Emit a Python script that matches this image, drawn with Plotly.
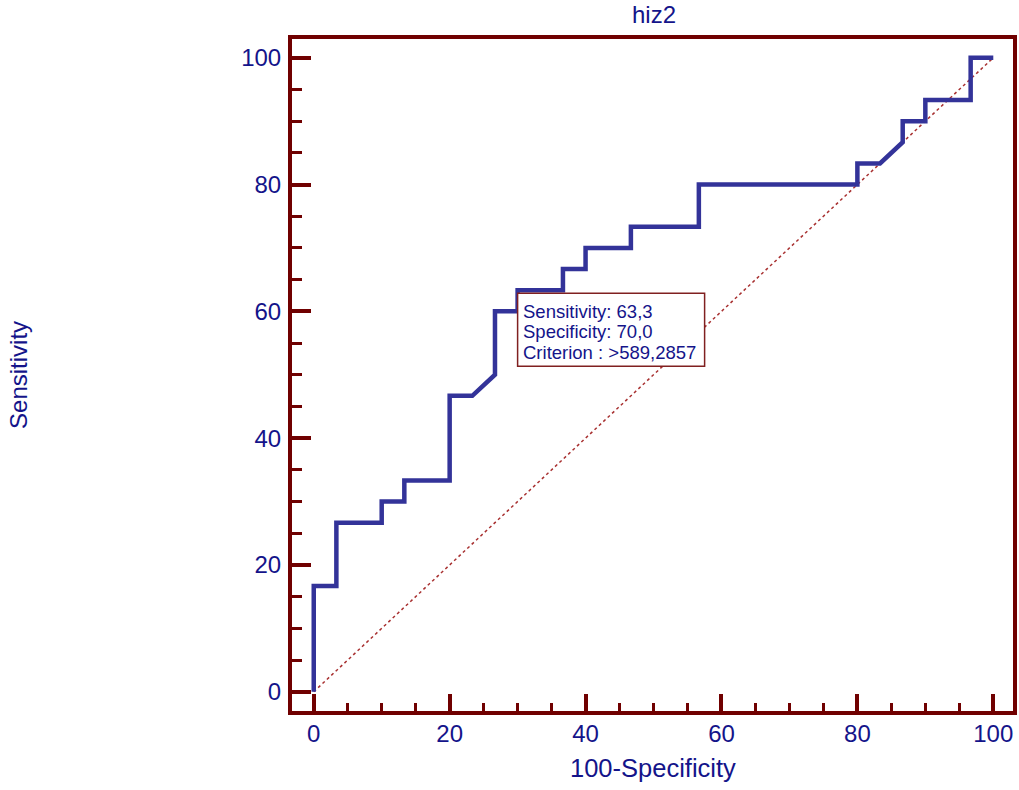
import plotly.graph_objects as go

# ROC curve points (100-Specificity, Sensitivity)
fpr = [0, 0, 3.33, 3.33, 10, 10, 13.33, 13.33, 20, 20, 23.33, 26.67, 26.67, 30, 30,
       36.67, 36.67, 40, 40, 46.67, 46.67, 56.67, 56.67, 80, 80, 83.33, 86.67, 86.67,
       90, 90, 96.67, 96.67, 100]
tpr = [0, 16.67, 16.67, 26.67, 26.67, 30, 30, 33.33, 33.33, 46.67, 46.67, 50, 60, 60, 63.33,
       63.33, 66.67, 66.67, 70, 70, 73.33, 73.33, 80, 80, 83.33, 83.33, 86.67, 90,
       90, 93.33, 93.33, 100, 100]
diag_x = [0, 100]
diag_y = [0, 100]

crit_x = 30
crit_y = 63.33
box_lines = ["Sensitivity: 63,3", "Specificity: 70,0", "Criterion : >589,2857"]

title_text = "hiz2"
x_title = "100-Specificity"
y_title = "Sensitivity"
tick_vals = [0, 20, 40, 60, 80, 100]

AXIS = "#700000"
TXT = "#14148a"
CURVE = "#333399"
FONT = "Liberation Sans, Arial, sans-serif"

fig = go.Figure()
fig.add_trace(go.Scatter(x=diag_x, y=diag_y, mode="lines",
                         line=dict(color="#a83030", width=1.5, dash="dot"),
                         hoverinfo="skip"))
fig.add_trace(go.Scatter(x=fpr, y=tpr, mode="lines",
                         line=dict(color=CURVE, width=4.5),
                         hoverinfo="skip"))

L, T, R, B = 291.5, 38.5, 1013, 711
W, H = 1019, 790
pw, ph = R - L, B - T

fig.update_layout(
    width=W, height=H,
    margin=dict(l=L, r=W - R, t=T, b=H - B, pad=0, autoexpand=False),
    paper_bgcolor="white", plot_bgcolor="white",
    showlegend=False,
    font=dict(family=FONT, color=TXT, size=24),
)
fig.update_xaxes(
    range=[-3.2, 102.9], tickvals=tick_vals, showgrid=False, zeroline=False,
    showline=True, linecolor=AXIS, linewidth=4, mirror=True,
    ticks="inside", ticklen=17, tickwidth=4, tickcolor=AXIS,
    minor=dict(dtick=5, tick0=0, ticks="inside", ticklen=8, tickwidth=3, tickcolor=AXIS, showgrid=False),
    tickfont=dict(family=FONT, size=24, color=TXT),
    ticklabelstandoff=-2,
    automargin=False,
    fixedrange=True,
)
fig.update_yaxes(
    range=[-3.04, 102.96], tickvals=tick_vals, showgrid=False, zeroline=False,
    showline=True, linecolor=AXIS, linewidth=4, mirror=True,
    ticks="inside", ticklen=19, tickwidth=4, tickcolor=AXIS,
    minor=dict(dtick=5, tick0=0, ticks="inside", ticklen=10, tickwidth=3, tickcolor=AXIS, showgrid=False),
    tickfont=dict(family=FONT, size=24, color=TXT),
    ticklabelstandoff=2,
    automargin=False,
    fixedrange=True,
)

annotations = [
    dict(text=title_text, xref="paper", yref="paper", x=(654 - L) / pw, y=(B - 14) / ph,
         xanchor="center", yanchor="middle", showarrow=False, font=dict(size=24, color=TXT)),
    dict(text=x_title, xref="paper", yref="paper", x=(653 - L) / pw, y=(B - 768) / ph,
         xanchor="center", yanchor="middle", showarrow=False, font=dict(size=25.5, color=TXT)),
    dict(text=y_title, xref="paper", yref="paper", x=(18 - L) / pw, y=(B - 375) / ph,
         xanchor="center", yanchor="middle", textangle=-90, showarrow=False,
         font=dict(size=24, color=TXT)),
]
for i, line in enumerate(box_lines):
    annotations.append(dict(text=line, x=crit_x, y=crit_y, xref="x", yref="y",
                            xanchor="left", yanchor="middle", showarrow=False,
                            xshift=3, yshift=-(21 + 20.5 * i),
                            font=dict(size=18.5, color=TXT)))
fig.update_layout(annotations=annotations)

fig.add_shape(type="rect", xref="x", yref="y", xsizemode="pixel", ysizemode="pixel",
              xanchor=crit_x, yanchor=crit_y, x0=0, x1=187, y0=-3, y1=-76,
              line=dict(color="#802020", width=1.5), fillcolor="rgba(255,255,255,1)",
              layer="above")

fig.write_html("out.html", config={"displayModeBar": False})
